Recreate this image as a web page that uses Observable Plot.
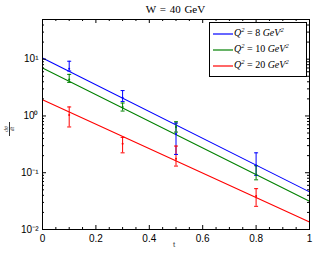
<!DOCTYPE html>
<html><head><meta charset="utf-8">
<script src="https://cdn.jsdelivr.net/npm/d3@7"></script>
<script src="https://cdn.jsdelivr.net/npm/@observablehq/plot@0.6"></script>
<style>
body{margin:0;background:#fff}
#wrap{position:relative;width:316px;height:256px;overflow:hidden}
#title{position:absolute;left:0;width:351px;top:3px;text-align:center;font:11px "Liberation Serif",serif;word-spacing:1px}
#legend{position:absolute;left:209px;top:22px;width:96px;height:53px;background:#fff;border:1px solid #000;font:italic 10px "Liberation Serif",serif;}
.row{position:absolute;left:3px;height:14px;line-height:14px;white-space:nowrap}
.row svg{vertical-align:middle;margin-right:1px}
.row sup{font-size:6.5px;vertical-align:4px;line-height:0}
.up{font-style:normal}
#ylab{position:absolute;left:3px;top:123px;width:14px;height:12px;transform:rotate(-90deg);font:italic 5.5px "Liberation Serif",serif;text-align:center;line-height:5px;color:#333}
#xlab{position:absolute;left:173px;top:240px;font:8px "Liberation Sans",sans-serif;color:#444}
</style></head>
<body><div id="wrap"></div>
<script>
// fitted curves (endpoints at t = 0 and t = 1)
const tFit = [0, 1];
const fit8 = [10.5, 0.046];
const fit10 = [7.0, 0.0314];
const fit20 = [1.93, 0.0136];

// measured points
const tData = [0.1, 0.3, 0.5, 0.8];
const q8 = [6.8, 2.1, 0.48, 0.134];
const q8Lo = [6.2, 1.8, 0.21, 0.09];
const q8Hi = [9.2, 2.8, 0.75, 0.224];
const q10 = [4.4, 1.44, 0.64, 0.092];
const q10Lo = [3.9, 1.22, 0.52, 0.075];
const q10Hi = [5.4, 1.69, 0.79, 0.133];
const q20 = [1.04, 0.323, 0.176, 0.039];
const q20Lo = [0.64, 0.224, 0.131, 0.0256];
const q20Hi = [1.44, 0.42, 0.295, 0.0524];

const seriesNames = ["8", "10", "20"];
const colors = ["#0000ff", "#008000", "#ff0000"];

const xMajor = [0, 0.2, 0.4, 0.6, 0.8, 1];
const xMinor = [0.05, 0.1, 0.15, 0.25, 0.3, 0.35, 0.45, 0.5, 0.55, 0.65, 0.7, 0.75, 0.85, 0.9, 0.95];
const yMajor = [0.01, 0.1, 1, 10];
const yMinor = [0.02,0.03,0.04,0.05,0.06,0.07,0.08,0.09,0.2,0.3,0.4,0.5,0.6,0.7,0.8,0.9,2,3,4,5,6,7,8,9,20,30,40,50];
const yTickText = {0.01: "10\u207B\u00B2", 0.1: "10\u207B\u00B9", 1: "10\u2070", 10: "10\u00B9"};

const fits = [fit8, fit10, fit20];
const vals = [q8, q10, q20], los = [q8Lo, q10Lo, q20Lo], his = [q8Hi, q10Hi, q20Hi];

const lineData = [];
fits.forEach((f, i) => tFit.forEach((t, j) => lineData.push({t, v: f[j], s: seriesNames[i]})));
const pts = [];
vals.forEach((arr, i) => tData.forEach((t, j) => pts.push({t, v: arr[j], lo: los[i][j], hi: his[i][j], s: seriesNames[i]})));

const W = 316, H = 256, mL = 42, mR = 7, mT = 19, mB = 27;
const pw = W - mL - mR, ph = H - mT - mB;
const cap = {draw(ctx, size) { const r = Math.sqrt(size / Math.PI); ctx.moveTo(-r, 0); ctx.lineTo(r, 0); }};
const colorScale = {domain: seriesNames, range: colors};

const chart = Plot.plot({
  width: W, height: H, marginLeft: mL, marginRight: mR, marginTop: mT, marginBottom: mB,
  style: {fontFamily: "Liberation Sans, Arial, sans-serif", fontSize: "10px", color: "#000", background: "#fff"},
  x: {domain: [0, 1]},
  y: {type: "log", domain: [0.01, 50]},
  color: colorScale,
  marks: [
    Plot.line(lineData, {x: "t", y: "v", z: "s", stroke: "s", strokeWidth: 1.1}),
    Plot.ruleX(pts, {x: "t", y1: "lo", y2: "hi", stroke: "s", strokeWidth: 1}),
    Plot.dot(pts, {x: "t", y: "lo", symbol: cap, r: 2, stroke: "s", strokeWidth: 1}),
    Plot.dot(pts, {x: "t", y: "hi", symbol: cap, r: 2, stroke: "s", strokeWidth: 1}),
    Plot.dot(pts, {x: "t", y: "v", r: 1, fill: "s", stroke: null}),
    Plot.tickX(xMajor, {x: d => d, insetTop: ph - 4, stroke: "#000"}),
    Plot.tickX(xMajor, {x: d => d, insetBottom: ph - 4, stroke: "#000"}),
    Plot.tickX(xMinor, {x: d => d, insetTop: ph - 2, stroke: "#000"}),
    Plot.tickX(xMinor, {x: d => d, insetBottom: ph - 2, stroke: "#000"}),
    Plot.tickY(yMajor, {y: d => d, insetRight: pw - 4, stroke: "#000"}),
    Plot.tickY(yMajor, {y: d => d, insetLeft: pw - 4, stroke: "#000"}),
    Plot.tickY(yMinor, {y: d => d, insetRight: pw - 2, stroke: "#000"}),
    Plot.tickY(yMinor, {y: d => d, insetLeft: pw - 2, stroke: "#000"}),
    Plot.axisX({ticks: xMajor, tickSize: 0, tickPadding: 5, tickFormat: d => String(d), label: null}),
    Plot.axisY({ticks: yMajor, tickSize: 0, tickPadding: 4, tickFormat: d => yTickText[d], label: null}),
    Plot.frame({stroke: "#000", strokeWidth: 1})
  ]
});

const wrap = document.getElementById("wrap");
wrap.appendChild(chart);

const title = document.createElement("div");
title.id = "title"; title.textContent = "W = 40 GeV";
wrap.appendChild(title);

const leg = document.createElement("div");
leg.id = "legend";
seriesNames.forEach((n, i) => {
  const r = document.createElement("div");
  r.className = "row"; r.style.top = (3 + i * 16) + "px";
  r.innerHTML = `<svg width="20" height="4"><line x1="0" x2="20" y1="2" y2="2" stroke="${colors[i]}" stroke-width="1.2"/></svg>Q<sup>2</sup> <span class="up">=</span> <span class="up">${n}</span> GeV<sup>2</sup>`;
  leg.appendChild(r);
});
wrap.appendChild(leg);

const yl = document.createElement("div");
yl.id = "ylab";
yl.innerHTML = `<div style="border-bottom:0.5px solid #333">dσ</div><div>dt</div>`;
wrap.appendChild(yl);

const xl = document.createElement("div");
xl.id = "xlab"; xl.textContent = "t";
wrap.appendChild(xl);
</script></body></html>
